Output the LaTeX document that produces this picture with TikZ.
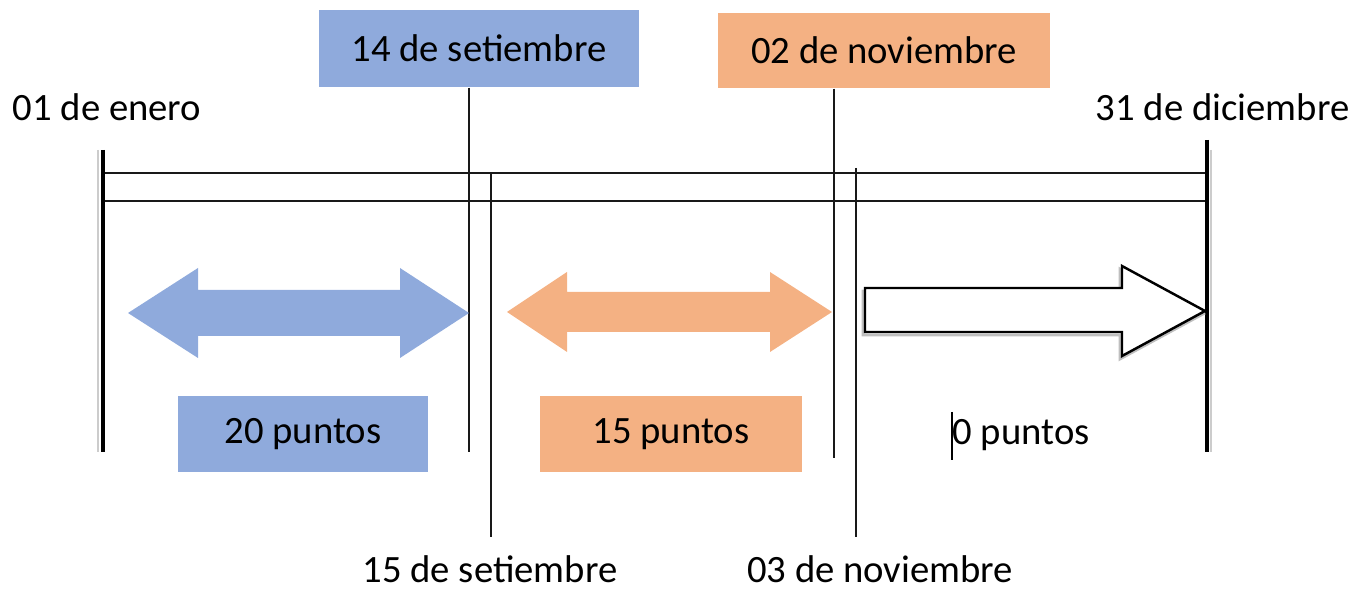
\documentclass[tikz,border=0pt]{standalone}
\usepackage{fontspec}
\setmainfont{Carlito}
\definecolor{azul}{HTML}{8FAADC}
\definecolor{naranja}{HTML}{F4B183}
\begin{document}
\begin{tikzpicture}[x=0.01cm,y=-0.01cm,font=\fontsize{11}{13}\selectfont,
    caja/.style={inner sep=0pt,minimum height=0.76cm},
    raya/.style={line width=0.6pt,color=black!90}]
\useasboundingbox (0,0) rectangle (1356,591);
% fechas de arriba
\node[caja,fill=azul,minimum width=3.2cm,minimum height=0.77cm] (sep14) at (479,48.5) {14 de setiembre};
\node[caja,fill=naranja,minimum width=3.32cm,minimum height=0.75cm] (nov02) at (884,50.5) {02 de noviembre};
\node (enero) at (107,107) {01 de enero};
\node[anchor=east,inner sep=0pt] (dic) at (1350,107) {31 de diciembre};
% eje
\coordinate (ini) at (103,150);
\coordinate (fin) at (1207,140);
\draw[raya] (103,173) -- (1207,173);
\draw[raya] (103,201) -- (1207,201);
\draw[black!20,line width=0.6pt] ([xshift=-1.4pt]ini) -- ++(0,302);
\draw[black!20,line width=0.6pt] ([xshift=1.1pt]fin) ++(0,10) -- ++(0,302);
\draw[line width=1.4pt] (ini) -- (103,452);
\draw[line width=1.4pt] (fin) -- (1207,452);
% cortes
\draw[raya] (sep14.south -| 469,0) -- (469,452);
\draw[raya] (nov02.south -| 834,0) -- (834,458);
\coordinate (sep15) at (491,537);
\coordinate (nov03) at (856,537);
\draw[raya] (491,173) -- (sep15);
\draw[raya] (856,168) -- (nov03);
\node[anchor=base,inner sep=0pt] (tsep15) at (490,583) {15 de setiembre};
\node[anchor=base,inner sep=0pt] (tnov03) at (880,583) {03 de noviembre};
% flechas
\fill[azul] (128,313) -- (198,268) -- (198,290) -- (400,290) -- (400,268) -- (469,313)
    -- (400,358) -- (400,336) -- (198,336) -- (198,358) -- cycle;
\fill[naranja] (507,312) -- (567,272) -- (567,292) -- (770,292) -- (770,272) -- (832,312)
    -- (770,352) -- (770,332) -- (567,332) -- (567,352) -- cycle;
\draw[black!25,line width=0.8pt,shift={(-2,3)}] (865,288) -- (1122,288) -- (1122,266) -- (1205,311)
    -- (1122,356) -- (1122,332) -- (865,332) -- cycle;
\draw[fill=white,line width=0.7pt] (865,288) -- (1122,288) -- (1122,266) -- (1205,311)
    -- (1122,356) -- (1122,332) -- (865,332) -- cycle;
% puntos
\node[caja,fill=azul,minimum width=2.5cm] (p20) at (303,434) {20 puntos};
\node[caja,fill=naranja,minimum width=2.62cm] (p15) at (671,434) {15 puntos};
\node (p0) at (1021,435) {0 puntos};
\draw[line width=0.6pt] (952,412) -- (952,460);
\end{tikzpicture}
\end{document}
